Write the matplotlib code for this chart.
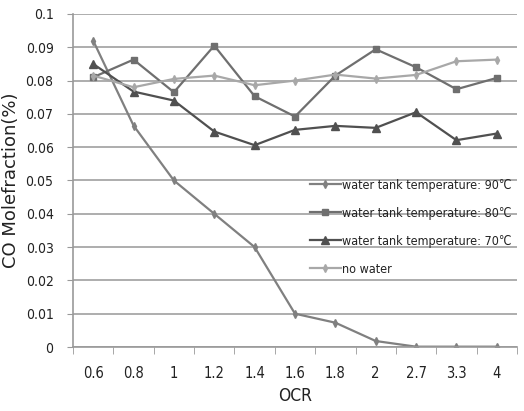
import matplotlib
matplotlib.use("Agg")
import matplotlib.pyplot as plt
import numpy as np

plt.rcParams['font.family'] = ['DejaVu Sans']
plt.rcParams['font.stretch'] = 'condensed'

ocr = ['0.6', '0.8', '1', '1.2', '1.4', '1.6', '1.8', '2', '2.7', '3.3', '4']
t90 = [0.092, 0.0665, 0.050, 0.040, 0.030, 0.010, 0.0073, 0.0018, 0.0001, 0.0001, 0.0001]
t80 = [0.081, 0.0863, 0.0765, 0.0905, 0.0753, 0.0692, 0.0815, 0.0894, 0.0840, 0.0774, 0.0808]
t70 = [0.085, 0.0767, 0.0740, 0.0647, 0.0606, 0.0652, 0.0664, 0.0658, 0.0705, 0.0621, 0.0641]
nowater = [0.0815, 0.0780, 0.0805, 0.0815, 0.0786, 0.0800, 0.0818, 0.0806, 0.0817, 0.0858, 0.0863]
labels = ['water tank temperature: 90\u2103', 'water tank temperature: 80\u2103',
          'water tank temperature: 70\u2103', 'no water']

fig = plt.figure(figsize=(5.24, 4.11), dpi=100)
ax = fig.add_axes([0.1393, 0.1557, 0.8473, 0.8103])

x = np.arange(len(ocr))
ax.plot(x, t90, color='#808080', lw=1.6, marker='d', ms=4, label=labels[0])
ax.plot(x, t80, color='#6f6f6f', lw=1.6, marker='s', ms=5, label=labels[1])
ax.plot(x, t70, color='#505050', lw=1.6, marker='^', ms=6, label=labels[2])
ax.plot(x, nowater, color='#a8a8a8', lw=1.6, marker='d', ms=4, label=labels[3])

ax.set_xlim(-0.5, len(ocr) - 0.5)
ax.set_ylim(0, 0.1)
ax.set_yticks(np.arange(0, 0.1001, 0.01))
ax.set_yticklabels(['0', '0.01', '0.02', '0.03', '0.04', '0.05', '0.06', '0.07', '0.08', '0.09', '0.1'])
ax.set_xticks(x)
ax.set_xticklabels(ocr)
ax.set_xticks(np.arange(-0.5, len(ocr)), minor=True)
ax.tick_params(axis='x', which='major', length=0, pad=14, labelsize=10.5, colors='#222222')
ax.tick_params(axis='x', which='minor', length=5, color='#999999', direction='out')
ax.tick_params(axis='y', length=4, color='#999999', labelsize=10, labelcolor='#222222', pad=10)
ax.yaxis.grid(True, color='#a0a0a0', lw=1.2)
ax.set_axisbelow(True)
for s in ['top', 'right']:
    ax.spines[s].set_visible(False)
for s in ['left', 'bottom']:
    ax.spines[s].set_color('#999999')
    ax.spines[s].set_linewidth(1.2)

ax.set_xlabel('OCR', fontsize=12.5, color='#222222', labelpad=4)
ax.set_ylabel('CO Molefraction(%)', fontsize=13, color='#222222', fontstretch='normal', labelpad=4)

leg = ax.legend(loc='upper left', bbox_to_anchor=(0.5225, 0.52), frameon=False,
                fontsize=9, handlelength=2.45, labelspacing=1.2, handletextpad=0.15,
                borderaxespad=0)
for t in leg.get_texts():
    t.set_color('#222222')

fig.savefig('out.png', dpi=100)
